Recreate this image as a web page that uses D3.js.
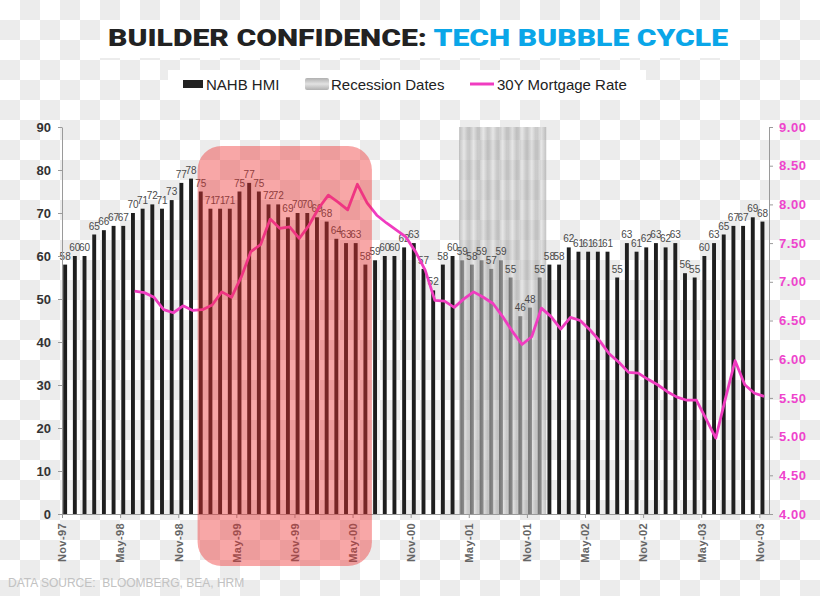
<!DOCTYPE html>
<html><head><meta charset="utf-8">
<script src="https://cdn.jsdelivr.net/npm/d3@7"></script>
<style>
body{margin:0;background:#fff}
svg{display:block}
text{font-family:"Liberation Sans",Arial,sans-serif}
</style>
</head><body>
<svg id="chart" width="820" height="596"></svg>
<script>
// ---------- DATA ----------
const months = ["Nov-97","Dec-97","Jan-98","Feb-98","Mar-98","Apr-98","May-98","Jun-98","Jul-98","Aug-98","Sep-98","Oct-98",
"Nov-98","Dec-98","Jan-99","Feb-99","Mar-99","Apr-99","May-99","Jun-99","Jul-99","Aug-99","Sep-99","Oct-99",
"Nov-99","Dec-99","Jan-00","Feb-00","Mar-00","Apr-00","May-00","Jun-00","Jul-00","Aug-00","Sep-00","Oct-00",
"Nov-00","Dec-00","Jan-01","Feb-01","Mar-01","Apr-01","May-01","Jun-01","Jul-01","Aug-01","Sep-01","Oct-01",
"Nov-01","Dec-01","Jan-02","Feb-02","Mar-02","Apr-02","May-02","Jun-02","Jul-02","Aug-02","Sep-02","Oct-02",
"Nov-02","Dec-02","Jan-03","Feb-03","Mar-03","Apr-03","May-03","Jun-03","Jul-03","Aug-03","Sep-03","Oct-03","Nov-03"];

const nahbHMI = [58,60,60,65,66,67,67,70,71,72,71,73,77,78,75,71,71,71,75,77,75,72,72,69,
70,70,69,68,64,63,63,58,59,60,60,62,63,57,52,58,60,59,58,59,57,59,55,46,48,55,58,58,62,61,
61,61,61,55,63,61,62,63,62,63,56,55,60,63,65,67,67,69,68];

const mortgageRate = [null,null,null,null,null,null,null,6.88,6.86,6.80,6.64,6.60,
6.69,6.63,6.64,6.70,6.87,6.80,7.06,7.39,7.48,7.81,7.69,7.71,
7.56,7.73,7.95,8.12,8.03,7.93,8.26,8.02,7.86,7.76,7.67,7.58,
7.39,7.15,6.76,6.75,6.67,6.78,6.87,6.80,6.72,6.55,6.36,6.19,
6.29,6.66,6.55,6.39,6.54,6.50,6.38,6.24,6.07,5.96,5.83,5.82,
5.74,5.67,5.58,5.51,5.47,5.47,5.23,4.98,5.49,5.98,5.67,5.56,5.52];

const recessionMonths = ["Apr-01","May-01","Jun-01","Jul-01","Aug-01","Sep-01","Oct-01","Nov-01","Dec-01"];
const recessionValue = 90;
const highlightRange = ["Jan-99","Jun-00"];
const highlightTop = 85.6;

const tickLabels = ["Nov-97","May-98","Nov-98","May-99","Nov-99","May-00","Nov-00","May-01","Nov-01","May-02","Nov-02","May-03","Nov-03"];
const leftTicks = [0,10,20,30,40,50,60,70,80,90];
const rightTicks = [4,4.5,5,5.5,6,6.5,7,7.5,8,8.5,9];
const legendItems = ["NAHB HMI","Recession Dates","30Y Mortgage Rate"];

// ---------- SETUP ----------
const svg = d3.select("#chart");
const W = 820, H = 596;
const plot = {left:62, right:769, top:127, bottom:514};

const x = d3.scaleBand().domain(months).range([plot.left, plot.right]).padding(0);
const bw = x.bandwidth();
const yL = d3.scaleLinear().domain([0,90]).range([plot.bottom, plot.top]);
const yR = d3.scaleLinear().domain([4,9]).range([plot.bottom, plot.top]);

const defs = svg.append("defs");
const pat = defs.append("pattern").attr("id","checker").attr("width",40).attr("height",40).attr("patternUnits","userSpaceOnUse");
pat.append("rect").attr("width",40).attr("height",40).attr("fill","#ffffff");
pat.append("rect").attr("x",20).attr("y",0).attr("width",20).attr("height",20).attr("fill","#ececec");
pat.append("rect").attr("x",0).attr("y",20).attr("width",20).attr("height",20).attr("fill","#ececec");

const recG = defs.append("linearGradient").attr("id","recG").attr("x1",0).attr("x2",1).attr("y1",0).attr("y2",0);
recG.append("stop").attr("offset","0%").attr("stop-color","#9a9a9a");
recG.append("stop").attr("offset","50%").attr("stop-color","#d6d6d6");
recG.append("stop").attr("offset","100%").attr("stop-color","#9a9a9a");

const legG = defs.append("linearGradient").attr("id","legG").attr("x1",0).attr("x2",0).attr("y1",0).attr("y2",1);
legG.append("stop").attr("offset","0%").attr("stop-color","#b0b0b0");
legG.append("stop").attr("offset","50%").attr("stop-color","#e2e2e2");
legG.append("stop").attr("offset","100%").attr("stop-color","#b0b0b0");

// background
svg.append("rect").attr("width",W).attr("height",H).attr("fill","url(#checker)");
svg.append("rect").attr("x",100).attr("y",20).attr("width",640).attr("height",38).attr("fill","#fff");
svg.append("rect").attr("x",168).attr("y",70).attr("width",478).attr("height",30).attr("fill","#fff");

// title
const title = svg.append("text").attr("x",108).attr("y",46)
  .attr("textLength",620).attr("lengthAdjust","spacingAndGlyphs")
  .style("font-family","Roboto, 'Liberation Sans', sans-serif")
  .style("font-weight","900").style("font-size","24px");
title.append("tspan").attr("fill","#222").text("BUILDER CONFIDENCE: ");
title.append("tspan").attr("fill","#0aa6e8").text("TECH BUBBLE CYCLE");

// legend
const lg = svg.append("g").style("font-size","15px").attr("fill","#222");
lg.append("rect").attr("x",183).attr("y",80).attr("width",20).attr("height",8).attr("fill","#222");
lg.append("text").attr("x",206).attr("y",89.5).text(legendItems[0]);
lg.append("rect").attr("x",305).attr("y",78).attr("width",24).attr("height",12).attr("rx",2).attr("fill","url(#legG)");
lg.append("text").attr("x",331).attr("y",89.5).text(legendItems[1]);
lg.append("line").attr("x1",470).attr("x2",494).attr("y1",84).attr("y2",84).attr("stroke","#f03cc0").attr("stroke-width",3);
lg.append("text").attr("x",497).attr("y",89.5).text(legendItems[2]);

// bars
const barW = 3.9, barOff = 1.2;
svg.append("g").selectAll("rect").data(months).join("rect")
  .attr("x", m => x(m) + barOff)
  .attr("width", barW)
  .attr("y", (m,i) => yL(nahbHMI[i]))
  .attr("height", (m,i) => yL(0) - yL(nahbHMI[i]))
  .attr("fill","#1f1f1f");

// recession columns
svg.append("g").selectAll("rect").data(recessionMonths).join("rect")
  .attr("x", m => x(m))
  .attr("width", bw)
  .attr("y", yL(recessionValue))
  .attr("height", yL(0) - yL(recessionValue))
  .attr("fill","url(#recG)")
  .attr("fill-opacity",0.6);

// data labels
svg.append("g").style("font-size","10px").attr("fill","#4a4a4a").attr("text-anchor","middle")
  .selectAll("text").data(months).join("text")
  .attr("x", m => x(m) + barOff + barW/2)
  .attr("y", (m,i) => yL(nahbHMI[i]) - 5)
  .text((m,i) => nahbHMI[i]);

// axes
const axisColor = "#9a9a9a";
const gL = svg.append("g").attr("transform",`translate(${plot.left},0)`)
  .call(d3.axisLeft(yL).tickValues(leftTicks).tickSize(4).tickPadding(7).tickSizeOuter(0));
gL.selectAll("text").style("font-size","13px").style("font-weight","bold").attr("fill","#333");
gL.selectAll("line,path").attr("stroke",axisColor);

const gR = svg.append("g").attr("transform",`translate(${plot.right},0)`)
  .call(d3.axisRight(yR).tickValues(rightTicks).tickFormat(d3.format(".2f")).tickSize(4).tickPadding(6).tickSizeOuter(0));
gR.selectAll("text").style("font-size","13px").style("font-weight","bold").style("letter-spacing","0.6px").attr("fill","#ee44cc");
gR.selectAll("line,path").attr("stroke",axisColor);

const xEdge = d3.scaleOrdinal().domain(months).range(months.map(m => x(m)));
const gB = svg.append("g").attr("transform",`translate(0,${plot.bottom})`)
  .call(d3.axisBottom(xEdge).tickValues(tickLabels).tickSize(4).tickSizeOuter(0));
gB.select("path").attr("d",`M${plot.left},0.5H${plot.right}`);
gB.selectAll("line,path").attr("stroke",axisColor);
gB.selectAll("text")
  .attr("transform","rotate(-90)")
  .attr("text-anchor","end")
  .attr("x",-9).attr("y",0).attr("dy","0.35em")
  .style("font-size","11px").style("font-weight","bold").style("letter-spacing","0.4px")
  .attr("fill","#666");

// mortgage line
const line = d3.line()
  .defined(d => d != null)
  .x((d,i) => x(months[i]) + bw/2)
  .y(d => yR(d));
svg.append("path").datum(mortgageRate)
  .attr("d", line)
  .attr("fill","none")
  .attr("stroke","#f03cc0")
  .attr("stroke-width",2.8)
  .attr("stroke-linejoin","round");

// highlight overlay
const hx0 = x(highlightRange[0]), hx1 = x(highlightRange[1]) + bw;
svg.append("rect")
  .attr("x", hx0).attr("width", hx1 - hx0)
  .attr("y", yL(highlightTop)).attr("height", 566 - yL(highlightTop))
  .attr("rx",24).attr("ry",24)
  .attr("fill","rgb(238,45,45)").attr("fill-opacity",0.42);

// source
svg.append("text").attr("x",8).attr("y",587)
  .style("font-size","12px").style("white-space","pre").attr("fill","#c2c2c2")
  .text("DATA SOURCE:  BLOOMBERG, BEA, HRM");
</script>
</body></html>
